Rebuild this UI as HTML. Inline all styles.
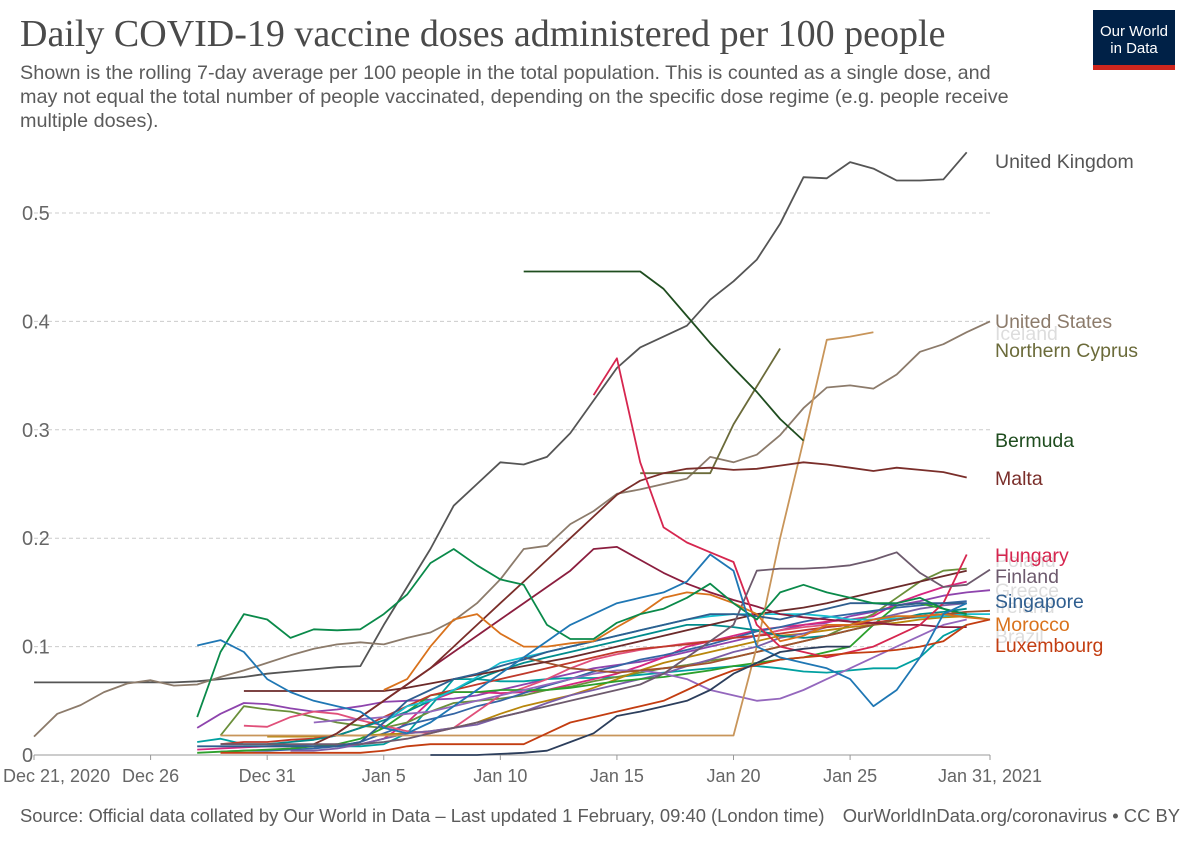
<!DOCTYPE html>
<html><head><meta charset="utf-8">
<style>
body{margin:0;background:#fff;width:1200px;height:847px;overflow:hidden;font-family:"Liberation Sans",sans-serif;}
#title{position:absolute;left:20px;top:12px;font-family:"Liberation Serif",serif;font-size:38px;color:#4a4a4a;margin:0;font-weight:normal;white-space:nowrap;}
#subtitle{position:absolute;left:20px;top:61px;font-size:19.8px;line-height:24px;color:#5b5b5b;white-space:nowrap;}
#logo{position:absolute;left:1093px;top:10px;width:82px;height:60px;background:#002147;color:#fff;font-size:15px;line-height:17px;text-align:center;}
#logo div{padding-top:13px}
#logo span{position:absolute;left:0;bottom:0;width:82px;height:5px;background:#ce261e}
#footer-l{position:absolute;left:20px;top:805px;font-size:18.4px;color:#5b5b5b;white-space:nowrap}
#footer-r{position:absolute;right:20px;top:805px;font-size:18.4px;color:#5b5b5b;white-space:nowrap}
svg{position:absolute;left:0;top:0}
</style></head><body>
<h1 id="title">Daily COVID-19 vaccine doses administered per 100 people</h1>
<div id="subtitle">Shown is the rolling 7-day average per 100 people in the total population. This is counted as a single dose, and<br>may not equal the total number of people vaccinated, depending on the specific dose regime (e.g. people receive<br>multiple doses).</div>
<div id="logo"><div>Our World<br>in Data</div><span></span></div>
<svg id="chart" width="1200" height="847"></svg>
<div id="footer-l">Source: Official data collated by Our World in Data – Last updated 1 February, 09:40 (London time)</div>
<div id="footer-r">OurWorldInData.org/coronavirus • CC BY</div>
<script>
const yTicks=[0,0.1,0.2,0.3,0.4,0.5];
const yTickLabels=["0","0.1","0.2","0.3","0.4","0.5"];
const xTickDays=[0,5,10,15,20,25,30,35,41];
const xTickLabels=["Dec 21, 2020","Dec 26","Dec 31","Jan 5","Jan 10","Jan 15","Jan 20","Jan 25","Jan 31, 2021"];
// background series (unlabelled): start day + daily values
const bgStarts=[7,7,7,8,8,9,10,11,7,8,10,12,15,21,9,13];
const bgColors=["#8e44ad","#00a0a0","#d62780","#6a8f3a","#3465a4","#e0507a","#b8860b","#7b5ea7","#2ca02c","#c0392b","#008b8b","#9467bd","#17becf","#a0522d","#6b2a2a","#8b1e3f"];
const bgValues=[
[0.025,0.038,0.048,0.047,0.043,0.04,0.042,0.045,0.049,0.05,0.051,0.052,0.055,0.06,0.065,0.07,0.075,0.08,0.083,0.086,0.09,0.095,0.1,0.105,0.11,0.115,0.12,0.122,0.128,0.132,0.138,0.142,0.147,0.15,0.152],
[0.012,0.015,0.01,0.01,0.009,0.008,0.008,0.008,0.01,0.02,0.045,0.07,0.07,0.068,0.068,0.07,0.071,0.071,0.072,0.074,0.076,0.078,0.08,0.082,0.082,0.08,0.077,0.076,0.078,0.08,0.08,0.09,0.11,0.12],
[0.005,0.006,0.007,0.008,0.008,0.008,0.009,0.01,0.015,0.03,0.05,0.058,0.058,0.057,0.058,0.06,0.065,0.07,0.075,0.082,0.09,0.1,0.105,0.11,0.115,0.118,0.12,0.123,0.125,0.128,0.14,0.148,0.155,0.16],
[0.018,0.045,0.042,0.04,0.035,0.03,0.027,0.025,0.03,0.04,0.048,0.05,0.052,0.055,0.06,0.063,0.068,0.072,0.076,0.08,0.083,0.087,0.09,0.095,0.1,0.105,0.11,0.12,0.13,0.145,0.16,0.17,0.172],
[0.003,0.004,0.004,0.005,0.006,0.008,0.012,0.02,0.028,0.033,0.038,0.045,0.05,0.057,0.064,0.07,0.077,0.082,0.088,0.092,0.097,0.102,0.108,0.114,0.118,0.123,0.127,0.13,0.133,0.136,0.138,0.14,0.142],
[0.027,0.026,0.035,0.04,0.038,0.032,0.027,0.022,0.02,0.025,0.04,0.055,0.062,0.07,0.08,0.088,0.093,0.097,0.1,0.103,0.105,0.108,0.11,0.115,0.118,0.12,0.12,0.122,0.125,0.128,0.13,0.132],
[0.017,0.017,0.017,0.018,0.018,0.019,0.02,0.022,0.025,0.03,0.038,0.045,0.05,0.055,0.062,0.07,0.078,0.085,0.09,0.095,0.1,0.105,0.11,0.112,0.115,0.118,0.12,0.122,0.125,0.127,0.128],
[0.004,0.004,0.006,0.01,0.015,0.02,0.022,0.025,0.028,0.035,0.04,0.048,0.055,0.06,0.065,0.07,0.075,0.082,0.088,0.095,0.1,0.108,0.112,0.118,0.12,0.125,0.13,0.135,0.138,0.14],
[0.002,0.003,0.004,0.005,0.006,0.008,0.01,0.015,0.025,0.04,0.055,0.058,0.058,0.06,0.06,0.06,0.062,0.065,0.068,0.07,0.072,0.075,0.078,0.082,0.085,0.088,0.09,0.095,0.1,0.12,0.138,0.14,0.135,0.128,0.125],
[0.01,0.012,0.012,0.014,0.015,0.018,0.025,0.035,0.045,0.055,0.06,0.065,0.07,0.075,0.08,0.085,0.09,0.095,0.098,0.1,0.102,0.105,0.108,0.11,0.112,0.115,0.118,0.12,0.122,0.125,0.128,0.13,0.13],
[0.01,0.012,0.014,0.018,0.025,0.032,0.04,0.05,0.06,0.07,0.078,0.085,0.09,0.095,0.1,0.105,0.11,0.115,0.12,0.12,0.118,0.115,0.11,0.108,0.11,0.115,0.12,0.125,0.13,0.132,0.135],
[0.03,0.032,0.033,0.035,0.038,0.04,0.045,0.05,0.055,0.06,0.065,0.07,0.075,0.078,0.078,0.075,0.07,0.06,0.055,0.05,0.052,0.06,0.07,0.08,0.09,0.1,0.11,0.12,0.125],
[0.03,0.045,0.05,0.06,0.072,0.085,0.09,0.095,0.1,0.105,0.11,0.115,0.12,0.125,0.128,0.13,0.13,0.13,0.13,0.128,0.125,0.125,0.126,0.127,0.128,0.13,0.13],
[0.09,0.085,0.08,0.078,0.076,0.078,0.08,0.082,0.085,0.09,0.095,0.1,0.105,0.11,0.115,0.12,0.125,0.128,0.13,0.132,0.133],
[0.059,0.059,0.059,0.059,0.059,0.059,0.059,0.062,0.066,0.07,0.074,0.078,0.082,0.086,0.09,0.095,0.1,0.105,0.11,0.115,0.12,0.125,0.13,0.133,0.136,0.14,0.145,0.15,0.155,0.16,0.165,0.17],
[0.02,0.035,0.05,0.065,0.08,0.095,0.11,0.125,0.14,0.155,0.17,0.19,0.192,0.18,0.168,0.158,0.15,0.143,0.137,0.13,0.127,0.125,0.123,0.122,0.12,0.12,0.118,0.118]
];
// labelled series
const names=["United Kingdom","United States","Iceland","Northern Cyprus","Bermuda","Malta","Hungary","Finland","Singapore","Morocco","Luxembourg","Green series","Blue series","Navy series"];
const colors=["#555555","#8c7b6b","#c8955a","#6b6b3a","#1f4d1f","#7a2e2a","#d6264f","#6d5a6d","#2f5e8f","#d9721c","#c33d11","#0a8a4a","#1f77b4","#2c3e5c"];
const starts=[0,0,8,26,21,12,24,8,7,15,8,7,7,17];
const values=[
[0.067,0.067,0.067,0.067,0.067,0.067,0.067,0.068,0.07,0.072,0.075,0.077,0.079,0.081,0.082,0.12,0.155,0.19,0.23,0.25,0.27,0.268,0.275,0.297,0.327,0.357,0.376,0.386,0.396,0.42,0.437,0.457,0.49,0.533,0.532,0.547,0.541,0.53,0.53,0.531,0.556],
[0.017,0.038,0.046,0.058,0.066,0.069,0.064,0.065,0.072,0.078,0.085,0.092,0.098,0.102,0.104,0.102,0.108,0.113,0.124,0.14,0.162,0.19,0.193,0.213,0.225,0.241,0.245,0.25,0.255,0.275,0.27,0.277,0.295,0.32,0.339,0.341,0.338,0.351,0.372,0.379,0.39,0.4],
[0.018,0.018,0.018,0.018,0.018,0.018,0.018,0.018,0.018,0.018,0.018,0.018,0.018,0.018,0.018,0.018,0.018,0.018,0.018,0.018,0.018,0.018,0.018,0.1,0.2,0.29,0.383,0.386,0.39],
[0.26,0.26,0.26,0.26,0.305,0.34,0.375],
[0.446,0.446,0.446,0.446,0.446,0.446,0.43,0.405,0.38,0.357,0.335,0.31,0.29],
[0.01,0.02,0.035,0.05,0.065,0.08,0.1,0.12,0.14,0.16,0.18,0.2,0.22,0.24,0.253,0.26,0.264,0.265,0.263,0.264,0.267,0.27,0.268,0.265,0.262,0.265,0.263,0.261,0.256],
[0.332,0.366,0.27,0.21,0.196,0.187,0.178,0.12,0.1,0.095,0.09,0.095,0.1,0.11,0.12,0.14,0.185],
[0.01,0.01,0.01,0.01,0.01,0.01,0.01,0.012,0.015,0.02,0.025,0.03,0.035,0.04,0.045,0.05,0.055,0.06,0.065,0.075,0.09,0.105,0.12,0.17,0.172,0.172,0.173,0.175,0.18,0.187,0.168,0.155,0.157,0.171],
[0.008,0.008,0.008,0.008,0.008,0.008,0.008,0.012,0.03,0.05,0.06,0.07,0.075,0.082,0.088,0.095,0.1,0.105,0.11,0.115,0.12,0.125,0.13,0.13,0.128,0.125,0.13,0.135,0.14,0.14,0.138,0.14,0.14,0.14],
[0.06,0.07,0.1,0.125,0.13,0.112,0.1,0.1,0.103,0.105,0.118,0.13,0.145,0.15,0.148,0.14,0.13,0.105,0.11,0.12,0.12,0.125,0.128,0.128,0.13,0.127,0.125],
[0.002,0.002,0.002,0.002,0.002,0.002,0.002,0.004,0.008,0.01,0.01,0.01,0.01,0.01,0.02,0.03,0.035,0.04,0.045,0.05,0.06,0.07,0.078,0.083,0.088,0.09,0.092,0.094,0.095,0.097,0.1,0.105,0.12,0.125],
[0.035,0.095,0.13,0.125,0.108,0.116,0.115,0.116,0.13,0.148,0.177,0.19,0.175,0.162,0.157,0.12,0.107,0.107,0.122,0.13,0.135,0.145,0.158,0.14,0.125,0.15,0.157,0.15,0.145,0.14,0.14,0.145,0.135,0.13],
[0.101,0.106,0.095,0.07,0.058,0.05,0.045,0.04,0.025,0.02,0.03,0.045,0.06,0.075,0.09,0.105,0.12,0.13,0.14,0.145,0.15,0.16,0.185,0.17,0.1,0.09,0.085,0.08,0.07,0.045,0.06,0.09,0.13,0.14],
[0,0,0,0.001,0.002,0.004,0.012,0.02,0.036,0.04,0.045,0.05,0.06,0.075,0.085,0.095,0.098,0.1,0.1]
];
const labelNames=["United Kingdom","United States","Iceland","Northern Cyprus","Bermuda","Malta","Hungary","Poland","Finland","Greece","Singapore","Ireland","Morocco","Brazil","Luxembourg"];
const labelColors=["#555555","#8c7b6b","#dddddd","#6b6b3a","#1f4d1f","#7a2e2a","#d6264f","#dddddd","#6d5a6d","#dddddd","#2f5e8f","#dddddd","#d9721c","#dddddd","#c33d11"];
const labelY=[161,321,333,350,440,478,555,560,576,590,601,606,624,636,645];

const svg=document.getElementById('chart');
const NS="http://www.w3.org/2000/svg";
const X0=34,X1=990,D0=0,D1=41,Y0=755,Y1=213,V1=0.5;
const xs=d=>X0+(d-D0)/(D1-D0)*(X1-X0);
const ys=v=>Y0-v/V1*(Y0-Y1);
function mk(t,a){const e=document.createElementNS(NS,t);for(const k in a)e.setAttribute(k,a[k]);svg.appendChild(e);return e;}
yTicks.forEach((v,i)=>{
  if(v>0){const g=mk('line',{x1:X0,x2:X1,y1:ys(v),y2:ys(v),stroke:'#ccc','stroke-dasharray':'4,3'});
  
  }
  const t=mk('text',{x:22,y:ys(v)+7,'font-size':20,fill:'#666','font-family':'Liberation Sans'});
  t.textContent=yTickLabels[i];
  
  
});
const ax=mk('line',{x1:X0,x2:X1,y1:Y0,y2:Y0,stroke:'#999'});


xTickDays.forEach((d,i)=>{
  const tk=mk('line',{x1:xs(d),x2:xs(d),y1:Y0,y2:Y0+5,stroke:'#999'});
  
  
  const first=i===0;
  const t=mk('text',{x:first?3:xs(d),y:782,'font-size':18,fill:'#666','text-anchor':first?'start':'middle','font-family':'Liberation Sans'});
  t.textContent=xTickLabels[i];
  
  
});
function line(st,vals,col){
  const pts=vals.map((v,i)=>xs(st+i).toFixed(1)+','+ys(v).toFixed(1)).join(' ');
  return mk('polyline',{points:pts,fill:'none',stroke:col,'stroke-width':1.8,'stroke-linejoin':'round'});
}
bgValues.forEach((vals,i)=>{
  const p=line(bgStarts[i],vals,bgColors[i]);
  
  
});
values.forEach((vals,i)=>{
  const p=line(starts[i],vals,colors[i]);
  
  
});
const faint=[],strong=[];
labelNames.forEach((n,i)=>{
  const t=mk('text',{x:995,y:labelY[i]+7,'font-size':19.5,fill:labelColors[i],'font-family':'Liberation Sans'});
  t.textContent=n;
  
  
  (labelColors[i]==='#dddddd'?faint:strong).push(t);
});
strong.forEach(t=>svg.appendChild(t));
</script>
</body></html>
